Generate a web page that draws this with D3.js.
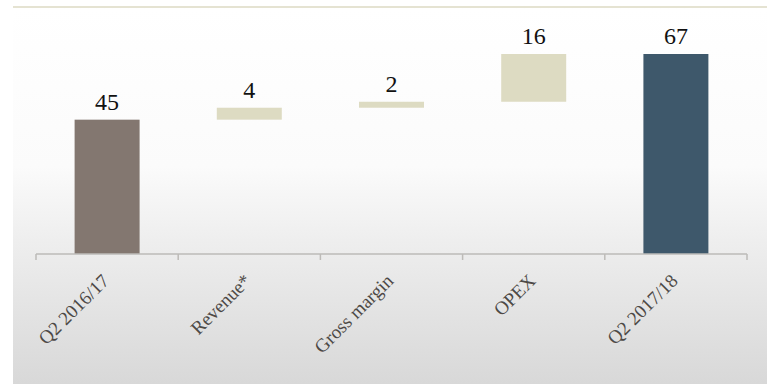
<!DOCTYPE html>
<html>
<head>
<meta charset="utf-8">
<script src="https://cdn.jsdelivr.net/npm/d3@7"></script>
<style>
  html, body { margin: 0; padding: 0; background: #ffffff; }
  svg { display: block; }
</style>
</head>
<body>
<svg id="chart" width="767" height="384"></svg>
<script>
// Waterfall: EBIT bridge from Q2 2016/17 to Q2 2017/18
const categories = ["Q2 2016/17", "Revenue*", "Gross margin", "OPEX", "Q2 2017/18"];
const values = [45, 4, 2, 16, 67];
const kinds = ["total", "delta", "delta", "delta", "total"];

const width = 767, height = 384;
const svg = d3.select("#chart");

// Background panel with a soft vertical grey gradient
const defs = svg.append("defs");
const grad = defs.append("linearGradient")
  .attr("id", "bg").attr("x1", 0).attr("y1", 0).attr("x2", 0).attr("y2", 1);
grad.append("stop").attr("offset", "0").attr("stop-color", "#ffffff");
grad.append("stop").attr("offset", "0.42").attr("stop-color", "#fbfbfb");
grad.append("stop").attr("offset", "0.62").attr("stop-color", "#eeeeee");
grad.append("stop").attr("offset", "1").attr("stop-color", "#d8d8d8");

svg.append("rect")
  .attr("x", 13).attr("y", 8).attr("width", width - 13).attr("height", height - 8)
  .attr("fill", "url(#bg)");

svg.append("line")
  .attr("x1", 13).attr("x2", width).attr("y1", 7).attr("y2", 7)
  .attr("stroke", "#e5e3d2").attr("stroke-width", 2);

// Running totals for the floating bars
let running = 0;
const bars = categories.map((c, i) => {
  let y0, y1;
  if (kinds[i] === "total") {
    y0 = 0; y1 = values[i]; running = values[i];
  } else {
    y0 = running; y1 = running + values[i]; running = y1;
  }
  return { cat: c, value: values[i], kind: kinds[i], y0, y1, index: i };
});

const x = d3.scaleBand().domain(categories).range([36, 747]).paddingInner(0.543).paddingOuter(0.2715);
const y = d3.scaleLinear().domain([0, 67]).range([254, 54]);

const fill = d => d.kind === "delta" ? "#dddbc2" : (d.index === 0 ? "#837770" : "#3e586b");

svg.append("g").selectAll("rect")
  .data(bars).join("rect")
  .attr("x", d => x(d.cat))
  .attr("width", x.bandwidth())
  .attr("y", d => y(Math.max(d.y0, d.y1)))
  .attr("height", d => Math.abs(y(d.y0) - y(d.y1)))
  .attr("fill", fill);

// Value labels
svg.append("g").selectAll("text")
  .data(bars).join("text")
  .attr("x", d => x(d.cat) + x.bandwidth() / 2)
  .attr("y", d => y(Math.max(d.y0, d.y1)) - 10)
  .attr("text-anchor", "middle")
  .attr("font-family", "'Liberation Serif', serif")
  .attr("font-size", 24)
  .attr("fill", "#111111")
  .text(d => d.value);

// Category axis: baseline with ticks at band boundaries
const axisY = 254;
const step = x.step();
const edges = d3.range(categories.length + 1).map(i => 36 + i * step);
const axis = svg.append("g");
axis.append("line")
  .attr("x1", edges[0]).attr("x2", edges[edges.length - 1])
  .attr("y1", axisY).attr("y2", axisY)
  .attr("stroke", "#bdbbb8").attr("stroke-width", 1.5);
axis.selectAll("line.tick")
  .data(edges).join("line").attr("class", "tick")
  .attr("x1", d => d).attr("x2", d => d)
  .attr("y1", axisY).attr("y2", axisY + 6)
  .attr("stroke", "#bdbbb8").attr("stroke-width", 1.5);

axis.selectAll("text")
  .data(categories).join("text")
  .attr("transform", d => `translate(${x(d) + x.bandwidth() / 2 + 3},${axisY + 28}) rotate(-45)`)
  .attr("text-anchor", "end")
  .attr("font-family", "'Liberation Serif', serif")
  .attr("font-size", 19)
  .attr("fill", "#4d4946")
  .text(d => d);
</script>
</body>
</html>
